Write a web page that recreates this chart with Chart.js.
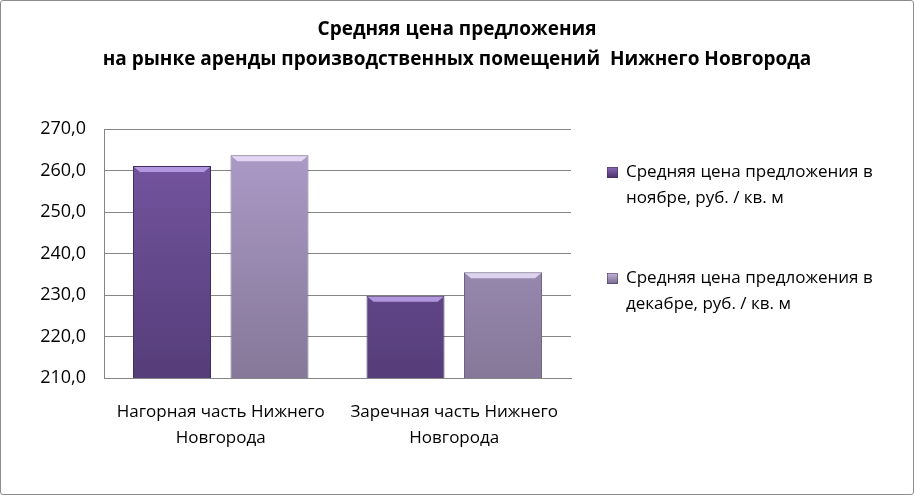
<!DOCTYPE html>
<html>
<head>
<meta charset="utf-8">
<script src="https://cdn.jsdelivr.net/npm/chart.js@4.4.0/dist/chart.umd.min.js"></script>
<style>
html,body{margin:0;padding:0;background:#fff;}
#wrap{position:absolute;left:0;top:0;width:912px;height:493px;border:1px solid #8c8c8c;border-radius:3px;}
canvas{display:block;}
</style>
</head>
<body>
<div id="wrap"><canvas id="c" width="912" height="493"></canvas></div>
<script>
const categories = [['Нагорная часть Нижнего','Новгорода'], ['Заречная часть Нижнего','Новгорода']];
const seriesNames = [['Средняя цена предложения в','ноябре, руб. / кв. м'], ['Средняя цена предложения в','декабре, руб. / кв. м']];
const novemberValues = [261.1, 229.8];
const decemberValues = [263.7, 235.5];
const titleLines = ['Средняя цена предложения', 'на рынке аренды производственных помещений  Нижнего Новгорода'];
const yMin = 210, yMax = 270, yStep = 10;

const FONT = "'Open Sans', 'DejaVu Sans', sans-serif";

function grad(ctx, top, bottom) {
  const a = ctx.chart.chartArea;
  if (!a) return top;
  const g = ctx.chart.ctx.createLinearGradient(0, a.top, 0, a.bottom);
  g.addColorStop(0, top);
  g.addColorStop(1, bottom);
  return g;
}

const titlePlugin = {
  id: 'customTitle',
  afterDraw(chart) {
    const c = chart.ctx;
    c.save();
    c.fillStyle = '#000';
    c.textAlign = 'center';
    c.textBaseline = 'middle';
    c.font = "bold 19px 'Open Sans', sans-serif";
    c.fillText(titleLines[0], 456, 29);
    c.fillText(titleLines[1], 456, 59);
    c.restore();
  }
};

const bevelPlugin = {
  id: 'bevel',
  afterDatasetsDraw(chart) {
    const c = chart.ctx;
    const tops = ['rgba(190,165,235,0.85)', 'rgba(235,225,250,0.85)'];
    c.save();
    chart.data.datasets.forEach((ds, i) => {
      chart.getDatasetMeta(i).data.forEach(bar => {
        const w = bar.width, x0 = bar.x - w / 2, y0 = bar.y;
        c.fillStyle = tops[i];
        c.beginPath();
        c.moveTo(x0 + 1, y0 + 1);
        c.lineTo(x0 + w - 1, y0 + 1);
        c.lineTo(x0 + w - 7, y0 + 6);
        c.lineTo(x0 + 7, y0 + 6);
        c.closePath();
        c.fill();
      });
    });
    c.restore();
  }
};

const legendPlugin = {
  id: 'customLegend',
  afterDraw(chart) {
    const c = chart.ctx;
    const fills = [['#8a6bb8', '#4e3672'], ['#c4b6dc', '#7d6e93']];
    const ys = [171, 277];
    c.save();
    c.font = "17px " + FONT;
    c.textBaseline = 'middle';
    c.textAlign = 'left';
    seriesNames.forEach((name, i) => {
      const y = ys[i];
      const g = c.createLinearGradient(0, y - 5, 0, y + 5);
      g.addColorStop(0, fills[i][0]);
      g.addColorStop(1, fills[i][1]);
      c.fillStyle = g;
      c.fillRect(606, y - 5, 11, 11);
      c.strokeStyle = '#3f2d5c';
      c.lineWidth = 0.5;
      c.strokeRect(606.5, y - 4.5, 10, 10);
      c.fillStyle = '#000';
      name.forEach((line, j) => c.fillText(line, 625, y + j * 26));
    });
    c.restore();
  }
};

new Chart(document.getElementById('c'), {
  type: 'bar',
  data: {
    labels: categories,
    datasets: [
      {
        label: seriesNames[0].join(' '),
        data: novemberValues,
        backgroundColor: ctx => grad(ctx, '#7757a3', '#553d79'),
        borderColor: '#3f2d5c',
        borderWidth: 1,
        barPercentage: 0.8,
        categoryPercentage: 0.835
      },
      {
        label: seriesNames[1].join(' '),
        data: decemberValues,
        backgroundColor: ctx => grad(ctx, '#ae9dcb', '#857898'),
        borderColor: '#6d6282',
        borderWidth: 1,
        barPercentage: 0.8,
        categoryPercentage: 0.835
      }
    ]
  },
  options: {
    responsive: false,
    animation: false,
    layout: { padding: { left: 0, right: 342, top: 128, bottom: 0 } },
    plugins: {
      legend: { display: false },
      title: { display: false },
      tooltip: { enabled: false }
    },
    scales: {
      y: {
        min: yMin,
        max: yMax,
        afterFit: s => { s.width = 103; },
        ticks: {
          stepSize: yStep,
          color: '#000',
          font: { family: FONT, size: 18 },
          padding: 18,
          callback: v => v.toFixed(1).replace('.', ',')
        },
        grid: { color: '#868686', lineWidth: 1, drawTicks: false },
        border: { color: '#868686' }
      },
      x: {
        afterFit: s => { s.height = 116; },
        ticks: {
          color: '#000',
          font: { family: FONT, size: 17, lineHeight: 1.53 },
          padding: 21,
          maxRotation: 0,
          autoSkip: false
        },
        grid: { display: false, drawTicks: false },
        border: { color: '#868686' }
      }
    }
  },
  plugins: [titlePlugin, bevelPlugin, legendPlugin]
});
</script>
</body>
</html>
